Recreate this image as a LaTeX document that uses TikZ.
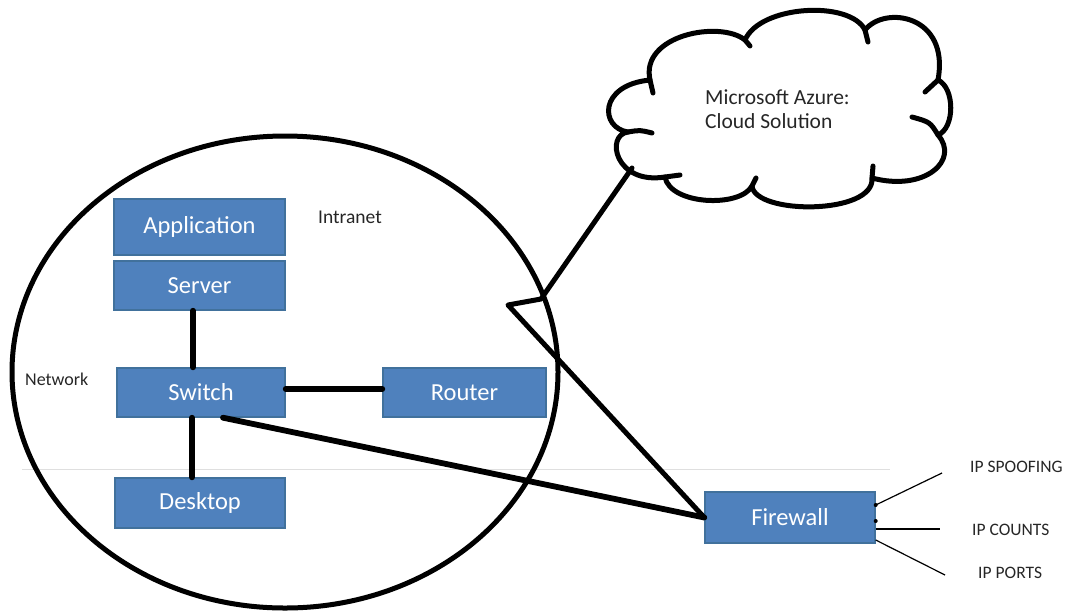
\documentclass[tikz,border=0pt]{standalone}
\usepackage{fontspec}
\setmainfont{Carlito}
\begin{document}
\begin{tikzpicture}[x=1pt,y=-1pt,
  box/.style={draw=boxedge, fill=boxfill, line width=1.4pt, text=white, inner sep=0pt,
    font=\fontsize{24.5}{28}\selectfont},
  conn/.style={line width=5.8pt, line cap=round},
  thin/.style={line width=1.2pt},
  lbl/.style={text=labelgray, inner sep=0pt, anchor=west},
  outline/.style={line width=5pt, line cap=round, line join=round}]
\definecolor{boxfill}{HTML}{4F81BD}
\definecolor{boxedge}{HTML}{41719C}
\definecolor{labelgray}{HTML}{262626}
\useasboundingbox (0,0) rectangle (1070,611);

% faint horizontal guide line
\draw[gray!25, line width=1pt] (22,469) -- (890,469);

% intranet boundary
\draw[outline] (285,372) ellipse [x radius=273, y radius=236];

% devices
\node[box, minimum width=171, minimum height=56] (app) at (199.5,227) {Application};
\node[box, minimum width=171, minimum height=49] (server) at (199.5,285.5) {Server};
\node[box, minimum width=168, minimum height=49] (switch) at (201,392.5) {Switch};
\node[box, minimum width=163, minimum height=49] (router) at (464.5,392.5) {Router};
\node[box, minimum width=170, minimum height=50] (desktop) at (200,503) {Desktop};
\node[box, minimum width=170, minimum height=51] (fw) at (790,517.5) {Firewall};

% wiring
\draw[conn] ([xshift=-6.5pt]server.south) -- ([xshift=-6.5pt]server.south |- switch.north);
\draw[conn] ([yshift=3.5pt]switch.east) -- ([yshift=3.5pt]switch.east -| router.west);
\draw[conn] ([xshift=-9pt]switch.south) -- ([xshift=-9pt]switch.south |- desktop.north);
\draw[conn] ([xshift=22pt]switch.south) -- (fw.west);

% cloud callout
\coordinate (cl) at (632,168);
\coordinate (jn) at (541,299);
\coordinate (tip) at (508,305);
\draw[conn, line width=5pt, line join=round] (cl) -- (jn) -- (tip) -- (fw.west);

% cloud
\draw[outline]
  (628,132) .. controls (600,128) and (598,85) .. (650,80)
  .. controls (640,35) and (720,20) .. (745,40)
  .. controls (760,5) and (850,0) .. (865,30)
  .. controls (885,5) and (950,15) .. (938,80)
  .. controls (955,88) and (955,128) .. (938,135)
  .. controls (960,160) and (925,192) .. (872,178)
  .. controls (875,215) and (755,215) .. (752,186)
  .. controls (740,208) and (670,205) .. (665,177)
  .. controls (615,185) and (605,135) .. (628,132);
% inner strokes of the cloud lobes
\draw[outline] (628,132) .. controls (640,130) .. (652,133);
\draw[outline] (650,80) .. controls (651,86) .. (653,93);
\draw[outline] (745,40) .. controls (747,43) .. (750,46);
\draw[outline] (865,30) .. controls (867,36) .. (868,42);
\draw[outline] (938,80) .. controls (932,86) .. (925,92);
\draw[outline] (938,135) .. controls (930,122) .. (912,117);
\draw[outline] (872,178) .. controls (872,172) .. (873,166);
\draw[outline] (752,186) .. controls (754,182) .. (756,178);
\draw[outline] (665,177) .. controls (672,176) .. (680,175);

\node[lbl, align=left, font=\fontsize{21.5}{24}\selectfont] (azure) at (705,109)
  {Microsoft Azure:\\Cloud Solution};

% area labels
\node[lbl, font=\fontsize{19.5}{22}\selectfont] (intranet) at (318,217) {Intranet};
\node[lbl, font=\fontsize{18}{22}\selectfont] (network) at (25,379) {Network};

% firewall checks
\coordinate (e1) at (942,473);
\coordinate (e2) at (940,529);
\coordinate (e3) at (945,575);
\draw[thin] ([yshift=12.5pt]fw.east) -- (e1);
\draw[thin] ([yshift=-11.5pt]fw.east) -- (e2);
\draw[thin] ([yshift=-22.5pt]fw.east) -- (e3);
\fill ([yshift=12.5pt]fw.east) circle (2);
\fill ([yshift=-3.5pt]fw.east) circle (2);

\node[lbl, font=\fontsize{17.5}{20}\selectfont] (spoof) at (970,467) {IP SPOOFING};
\node[lbl, font=\fontsize{17.5}{20}\selectfont] (counts) at (972,530) {IP COUNTS};
\node[lbl, font=\fontsize{17.5}{20}\selectfont] (ports) at (978,573) {IP PORTS};
\end{tikzpicture}
\end{document}
